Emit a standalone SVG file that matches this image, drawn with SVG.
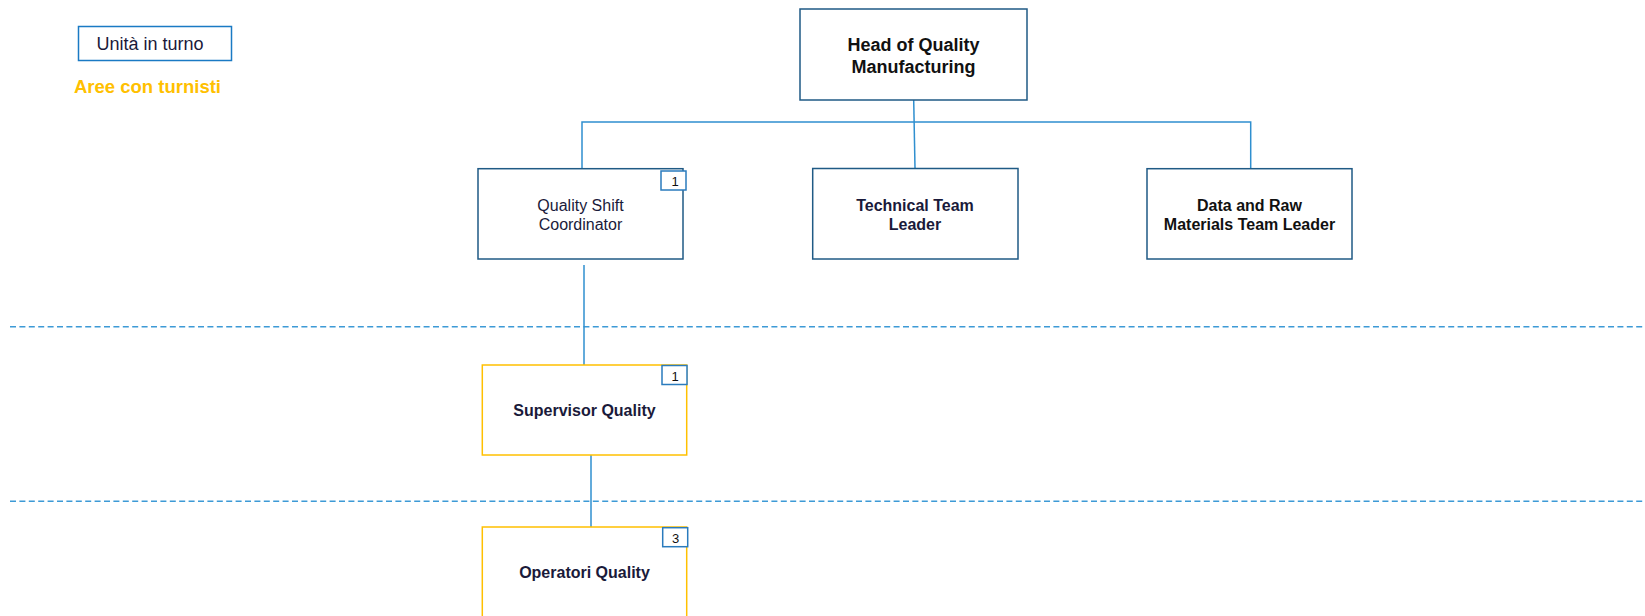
<svg xmlns="http://www.w3.org/2000/svg" width="1645" height="616" viewBox="0 0 1645 616">
<style>
.box{fill:#fff;stroke:#1f5a85;stroke-width:1.5}
.obox{fill:#fff;stroke:#ffc000;stroke-width:1.5}
.badge{fill:#fff;stroke:#2a7bbd;stroke-width:1.5}
.bt{font-family:"Liberation Sans",Arial,sans-serif;font-size:13px;fill:#111;text-anchor:middle}
.t{font-family:"Liberation Sans",Arial,sans-serif;font-size:16px;fill:#1a1a3a;text-anchor:middle}
.b{font-weight:bold}
.conn{stroke:#2f8fcf;stroke-width:1.5;fill:none}
.dash{stroke:#3d9ad6;stroke-width:1.5;stroke-dasharray:6 3.4;fill:none}
</style>
<rect width="1645" height="616" fill="#fff"/>
<g id="legend">
<rect x="78.5" y="26.5" width="153" height="34" fill="#fff" stroke="#1a7ac4" stroke-width="1.5"/>
<text x="150" y="50" class="t" style="font-size:18px">Unità in turno</text>
<text x="74" y="93" font-family="Liberation Sans, Arial, sans-serif" font-size="18.5" font-weight="bold" fill="#ffc000">Aree con turnisti</text>
</g>
<g id="separators">
<line x1="10" y1="326.7" x2="1645" y2="326.7" class="dash"/>
<line x1="10" y1="501.3" x2="1645" y2="501.3" class="dash"/>
</g>
<g id="connectors">
<path class="conn" d="M913.7 100 L915 168"/>
<path class="conn" d="M582 168.7 V122 H1250.7 V168.7"/>
<path class="conn" d="M584 265 V365"/>
<path class="conn" d="M591 455 V527"/>
</g>
<g id="head">
<rect x="800" y="9" width="227" height="91" class="box"/>
<text x="913.5" y="51" class="t b" style="font-size:18px;fill:#111">Head of Quality</text>
<text x="913.5" y="73" class="t b" style="font-size:18px;fill:#111">Manufacturing</text>
</g>
<g id="qsc">
<rect x="478" y="168.7" width="205" height="90.3" class="box"/>
<rect x="661" y="171" width="25" height="19" class="badge"/>
<text x="675" y="186" class="bt">1</text>
<text x="580.5" y="211" class="t">Quality Shift</text>
<text x="580.5" y="229.5" class="t">Coordinator</text>
</g>
<g id="technical">
<rect x="812.7" y="168.5" width="205.3" height="90.5" class="box"/>
<text x="915" y="211" class="t b">Technical Team</text>
<text x="915" y="229.5" class="t b">Leader</text>
</g>
<g id="data">
<rect x="1147" y="168.7" width="205" height="90.3" class="box"/>
<text x="1249.5" y="211" class="t b" style="fill:#111">Data and Raw</text>
<text x="1249.5" y="229.5" class="t b" style="fill:#111">Materials Team Leader</text>
</g>
<g id="supervisor">
<rect x="482.3" y="365" width="204.4" height="90" class="obox"/>
<rect x="662" y="365.5" width="25" height="19" class="badge"/>
<text x="675" y="380.5" class="bt">1</text>
<text x="584.5" y="415.7" class="t b">Supervisor Quality</text>
</g>
<g id="operatori">
<rect x="482.3" y="527" width="204.4" height="95" class="obox"/>
<rect x="662.7" y="527.7" width="25" height="19" class="badge"/>
<text x="675.5" y="542.5" class="bt">3</text>
<text x="584.5" y="578.3" class="t b">Operatori Quality</text>
</g>
</svg>
